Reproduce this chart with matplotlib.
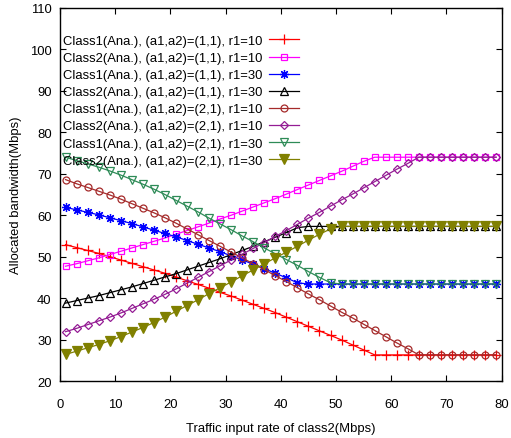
import matplotlib
matplotlib.use("Agg")
import matplotlib.pyplot as plt

plt.rcParams['font.family'] = ['Liberation Sans', 'DejaVu Sans']

x = list(range(1, 80, 2))

c1_11_r10 = [52.9, 52.2, 51.5, 50.8, 50.0, 49.2, 48.4, 47.6, 46.8, 46.0,
             45.1, 44.2, 43.3, 42.4, 41.4, 40.5, 39.5, 38.5, 37.5, 36.5,
             35.4, 34.3, 33.2, 32.1, 31.0, 29.9, 28.7, 27.5, 26.3, 26.3,
             26.3, 26.3, 26.3, 26.3, 26.3, 26.3, 26.3, 26.3, 26.3, 26.3]
c2_11_r10 = [47.7, 48.3, 49.0, 49.7, 50.5, 51.3, 52.1, 52.9, 53.7, 54.5,
             55.4, 56.3, 57.2, 58.1, 59.1, 60.0, 61.0, 62.0, 63.0, 64.0,
             65.1, 66.2, 67.3, 68.4, 69.5, 70.6, 71.8, 73.0, 74.0, 74.0,
             74.0, 74.0, 74.0, 74.0, 74.0, 74.0, 74.0, 74.0, 74.0, 74.0]
c1_11_r30 = [61.9, 61.3, 60.7, 60.1, 59.4, 58.7, 58.0, 57.2, 56.4, 55.6,
             54.8, 53.9, 53.0, 52.1, 51.2, 50.2, 49.2, 48.2, 47.1, 46.0,
             44.9, 43.7, 43.4, 43.4, 43.4, 43.4, 43.4, 43.4, 43.4, 43.4,
             43.4, 43.4, 43.4, 43.4, 43.4, 43.4, 43.4, 43.4, 43.4, 43.4]
c2_11_r30 = [38.8, 39.4, 40.0, 40.6, 41.3, 42.0, 42.7, 43.5, 44.3, 45.1,
             45.9, 46.8, 47.7, 48.6, 49.5, 50.5, 51.5, 52.5, 53.6, 54.7,
             55.8, 57.0, 57.3, 57.3, 57.3, 57.3, 57.3, 57.3, 57.3, 57.3,
             57.3, 57.3, 57.3, 57.3, 57.3, 57.3, 57.3, 57.3, 57.3, 57.3]
c1_21_r10 = [68.6, 67.6, 66.7, 65.8, 64.9, 63.9, 62.8, 61.7, 60.6, 59.4,
             58.1, 56.7, 55.3, 53.9, 52.5, 51.1, 49.7, 48.3, 46.9, 45.4,
             44.0, 42.5, 41.0, 39.6, 38.1, 36.6, 35.2, 33.7, 32.2, 30.7,
             29.2, 27.8, 26.3, 26.3, 26.3, 26.3, 26.3, 26.3, 26.3, 26.3]
c2_21_r10 = [31.9, 32.7, 33.6, 34.5, 35.4, 36.4, 37.5, 38.6, 39.7, 40.9,
             42.2, 43.6, 45.0, 46.4, 47.8, 49.2, 50.6, 52.0, 53.4, 54.9,
             56.3, 57.8, 59.3, 60.7, 62.2, 63.7, 65.1, 66.6, 68.1, 69.6,
             71.1, 72.5, 74.0, 74.0, 74.0, 74.0, 74.0, 74.0, 74.0, 74.0]
c1_21_r30 = [74.0, 73.2, 72.4, 71.6, 70.7, 69.7, 68.6, 67.5, 66.3, 65.0,
             63.6, 62.2, 60.8, 59.3, 57.9, 56.5, 55.0, 53.6, 52.1, 50.7,
             49.3, 47.9, 46.4, 45.0, 43.7, 43.4, 43.4, 43.4, 43.4, 43.4,
             43.4, 43.4, 43.4, 43.4, 43.4, 43.4, 43.4, 43.4, 43.4, 43.4]
c2_21_r30 = [26.4, 27.2, 28.0, 28.8, 29.7, 30.7, 31.8, 32.9, 34.1, 35.4,
             36.8, 38.2, 39.6, 41.1, 42.5, 43.9, 45.4, 46.8, 48.3, 49.7,
             51.1, 52.5, 54.0, 55.4, 56.7, 57.3, 57.3, 57.3, 57.3, 57.3,
             57.3, 57.3, 57.3, 57.3, 57.3, 57.3, 57.3, 57.3, 57.3, 57.3]

labels = [
    "Class1(Ana.), (a1,a2)=(1,1), r1=10",
    "Class2(Ana.), (a1,a2)=(1,1), r1=10",
    "Class1(Ana.), (a1,a2)=(1,1), r1=30",
    "Class2(Ana.), (a1,a2)=(1,1), r1=30",
    "Class1(Ana.), (a1,a2)=(2,1), r1=10",
    "Class2(Ana.), (a1,a2)=(2,1), r1=10",
    "Class1(Ana.), (a1,a2)=(2,1), r1=30",
    "Class2(Ana.), (a1,a2)=(2,1), r1=30",
]
series = [c1_11_r10, c2_11_r10, c1_11_r30, c2_11_r30,
          c1_21_r10, c2_21_r10, c1_21_r30, c2_21_r30]

styles = [
    dict(color='#FF0000', marker='+', ms=6.5, mfc='none'),
    dict(color='#FF00FF', marker='s', ms=5, mfc='none'),
    dict(color='#0000FF', marker=(8, 2, 0), ms=6.5, mfc='none'),
    dict(color='#000000', marker='^', ms=6, mfc='none'),
    dict(color='#A52A2A', marker='o', ms=5, mfc='none'),
    dict(color='#941C94', marker='D', ms=3.8, mfc='none'),
    dict(color='#2E8B57', marker='v', ms=6, mfc='none'),
    dict(color='#808000', marker='v', ms=6.5, mfc='#808000'),
]

fig = plt.figure(figsize=(5.11, 4.39), dpi=100)
ax = fig.add_axes([0.1174, 0.1298, 0.8644, 0.8497])

for y, lab, st in zip(series, labels, styles):
    ax.plot(x, y, label=lab, lw=0.9, color=st['color'], marker=st['marker'],
            markersize=st['ms'], markerfacecolor=st['mfc'],
            markeredgecolor=st['color'], markeredgewidth=0.9)

ax.set_xlim(0, 80)
ax.set_ylim(20, 110)
ax.set_xticks(range(0, 81, 10))
ax.set_yticks(range(20, 111, 10))
ax.tick_params(direction='in', top=True, right=True, length=4, width=0.8,
               labelsize=9.4)
ax.tick_params(axis='x', pad=12)
ax.tick_params(axis='y', pad=6)
for s in ax.spines.values():
    s.set_linewidth(1.0)

ax.set_xlabel("Traffic input rate of class2(Mbps)", fontsize=9.4, labelpad=9)
ax.set_ylabel("Allocated bandwidth(Mbps)", fontsize=9.4, labelpad=6)

leg = ax.legend(loc='upper left', bbox_to_anchor=(0.0, 0.935), frameon=False,
                markerfirst=False, fontsize=9.4, handlelength=2.3,
                labelspacing=0.38, borderaxespad=0.0, handletextpad=0.55,
                borderpad=0.2)

fig.savefig("out.png", dpi=100)
